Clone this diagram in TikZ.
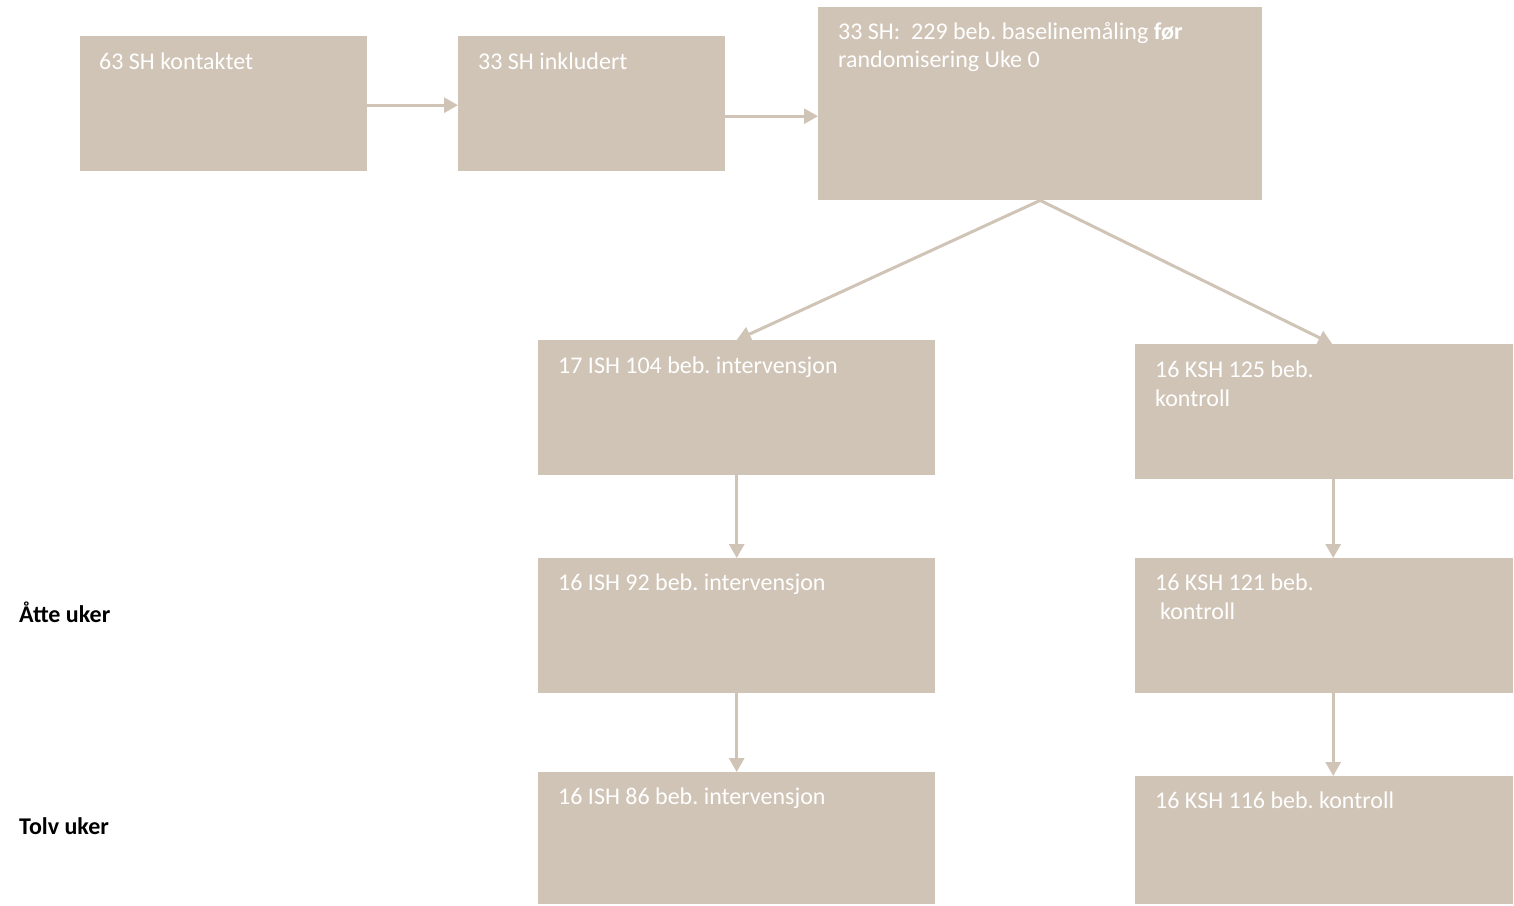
\documentclass[tikz,border=0pt]{standalone}
\usepackage{fontspec}
\setmainfont{Carlito}
\usetikzlibrary{arrows.meta,calc}
\definecolor{boxcol}{HTML}{D0C4B6}
\frenchspacing
\tikzset{
  box/.style={fill=boxcol, draw=none, rectangle, inner sep=0pt, anchor=north west},
  txt/.style={text=white, inner sep=0pt, anchor=base west, font=\fontsize{24}{29}\selectfont},
  side/.style={text=black, inner sep=0pt, anchor=base west, font=\fontsize{24}{29}\selectfont\bfseries},
  conn/.style={draw=boxcol, line width=3pt, -{Triangle[width=15pt,length=14pt]}}
}
\begin{document}
\begin{tikzpicture}[x=1pt,y=-1pt]
\fill[white] (0,0) rectangle (1514,905);
\useasboundingbox (0,0) rectangle (1514,905);
% boxes
\node[box, minimum width=287pt, minimum height=135pt] (A) at (80,36) {};
\node[box, minimum width=267pt, minimum height=135pt] (B) at (458,36) {};
\node[box, minimum width=444pt, minimum height=193pt] (C) at (818,7) {};
\node[box, minimum width=397pt, minimum height=135pt] (D) at (538,340) {};
\node[box, minimum width=378pt, minimum height=135pt] (E) at (1135,344) {};
\node[box, minimum width=397pt, minimum height=135pt] (F) at (538,558) {};
\node[box, minimum width=378pt, minimum height=135pt] (G) at (1135,558) {};
\node[box, minimum width=397pt, minimum height=132pt] (H) at (538,772) {};
\node[box, minimum width=378pt, minimum height=128pt] (I) at (1135,776) {};
% texts
\node[txt] (tA) at (99,69) {63 SH kontaktet};
\node[txt] (tB) at (478,69) {33 SH inkludert};
\node[txt] (tC1) at (838,39) {33 SH:\ \ 229 beb. baselinemåling \textbf{før}};
\node[txt] (tC2) at (838,67) {randomisering Uke 0};
\node[txt] (tD) at (558,373) {17 ISH 104 beb. intervensjon};
\node[txt] (tE1) at (1155,377) {16 KSH 125 beb.};
\node[txt] (tE2) at (1155,406) {kontroll};
\node[txt] (tF) at (558,590) {16 ISH 92 beb. intervensjon};
\node[txt] (tG1) at (1155,590) {16 KSH 121 beb.};
\node[txt] (tG2) at (1160,619) {kontroll};
\node[txt] (tH) at (558,804) {16 ISH 86 beb. intervensjon};
\node[txt] (tI) at (1155,808) {16 KSH 116 beb. kontroll};
\node[side] (l8) at (19,622) {Åtte uker};
\node[side] (l12) at (19,834) {Tolv uker};
% connectors
\draw[conn] ([yshift=-1.5pt]A.east) -- ([yshift=-1.5pt]B.west);
\draw[conn] ([yshift=-12.5pt]B.east) -- ([yshift=-12.5pt]C.west);
\draw[conn] (C.south) -- (D.north);
\draw[conn] (C.south) -- ([xshift=8pt]E.north);
\draw[conn] (D.south) -- (F.north);
\draw[conn] ([xshift=9pt]E.south) -- ([xshift=9pt]G.north);
\draw[conn] (F.south) -- (H.north);
\draw[conn] ([xshift=9pt]G.south) -- ([xshift=9pt]I.north);
\end{tikzpicture}
\end{document}
